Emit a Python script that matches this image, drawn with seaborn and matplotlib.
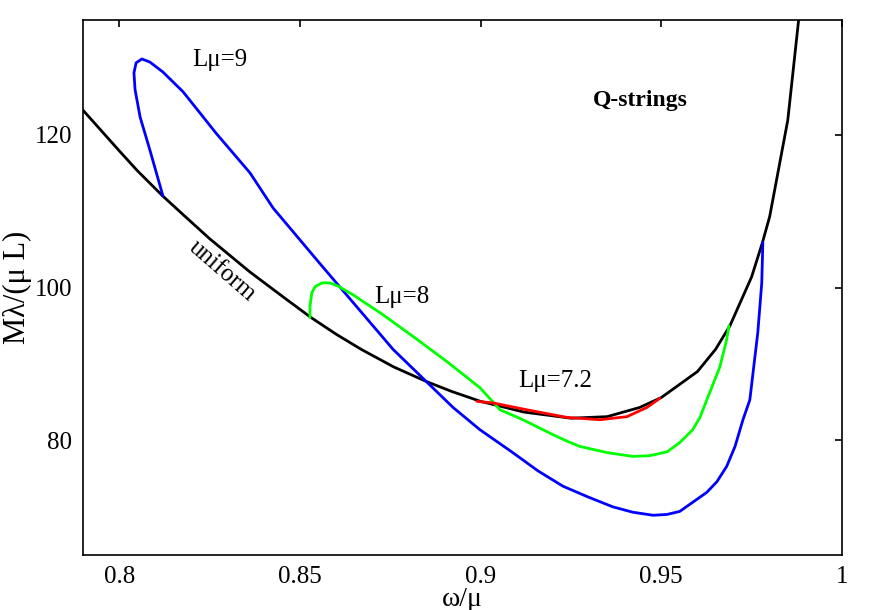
import matplotlib
matplotlib.use("Agg")
import matplotlib.pyplot as plt
import seaborn as sns

# uniform (black)
uni_x = [0.790, 0.800, 0.805, 0.812, 0.818, 0.825, 0.836, 0.845, 0.853, 0.860,
         0.867, 0.876, 0.885, 0.892, 0.900, 0.912, 0.925, 0.935, 0.944, 0.950,
         0.960, 0.965, 0.969, 0.975, 0.978, 0.980, 0.985, 0.988]
uni_y = [123.2, 117.9, 115.3, 112.0, 109.4, 106.4, 102.1, 98.9, 96.1, 93.9,
         91.9, 89.6, 87.7, 86.4, 85.1, 83.7, 82.9, 83.1, 84.3, 85.6,
         89.0, 91.9, 95.0, 101.4, 105.9, 109.3, 121.9, 135.0]

# L mu = 9 (blue)
l9_x = [0.8121, 0.8085, 0.8058, 0.8044, 0.8041, 0.8047, 0.8063, 0.8085, 0.8121,
        0.8177, 0.8268, 0.8362, 0.8426, 0.8556, 0.8758, 0.8924, 0.8998, 0.9089,
        0.9159, 0.9228, 0.9297, 0.9366, 0.9421, 0.9477, 0.9515, 0.9551, 0.9587,
        0.9626, 0.9654, 0.9681, 0.9704, 0.9726, 0.9745, 0.9767, 0.9778, 0.9781]
l9_y = [112.0, 118.0, 122.3, 125.9, 128.1, 129.4, 129.9, 129.5, 128.2,
        125.6, 120.2, 115.0, 110.4, 103.1, 91.9, 84.3, 81.4, 78.4,
        76.0, 74.0, 72.6, 71.3, 70.6, 70.2, 70.3, 70.7, 71.9,
        73.2, 74.6, 76.6, 79.2, 82.7, 85.3, 94.1, 100.6, 105.9]

# L mu = 8 (green)
l8_x = [0.8528, 0.8528, 0.8533, 0.8542, 0.8561, 0.8583, 0.8605, 0.8647, 0.8722,
        0.8813, 0.8907, 0.8998, 0.9054, 0.9117, 0.9200, 0.9239, 0.9275, 0.9350,
        0.9421, 0.9469, 0.9516, 0.9551, 0.9587, 0.9607, 0.9626, 0.9662, 0.9681,
        0.9687]
l8_y = [96.05, 97.5, 99.3, 100.1, 100.6, 100.6, 100.2, 99.05, 96.7,
        93.6, 90.3, 86.9, 84.0, 82.7, 80.75, 79.9, 79.2, 78.4,
        77.9, 78.0, 78.5, 79.7, 81.4, 83.0, 85.3, 89.6, 93.2,
        95.0]

# L mu = 7.2 (red)
l72_x = [0.8990, 0.9034, 0.9128, 0.9239, 0.9330, 0.9405, 0.9460, 0.9496]
l72_y = [85.1, 84.9, 84.0, 83.0, 82.7, 83.1, 84.3, 85.5]

x_ticks = [0.8, 0.85, 0.9, 0.95, 1.0]
x_tick_labels = ["0.8", "0.85", "0.9", "0.95", "1"]
y_ticks = [80, 100, 120]
y_tick_labels = ["80", "100", "120"]

sns.set_theme(style="white")
plt.rcParams['font.family'] = ['Liberation Serif', 'DejaVu Serif']
plt.rcParams['text.color'] = 'black'
plt.rcParams['axes.labelcolor'] = 'black'

fig = plt.figure(figsize=(8.72, 6.10), dpi=100)
ax = fig.add_axes([83/872, 55/610, (842-83)/872, (555-20)/610])

lw = 2.0
for xs, ys, c in [(uni_x, uni_y, "black"), (l9_x, l9_y, (0, 0, 1)),
                  (l8_x, l8_y, (0, 1, 0)), (l72_x, l72_y, (1, 0, 0))]:
    sns.lineplot(x=xs, y=ys, sort=False, estimator=None, color=c, lw=lw, ax=ax)

ax.set_xlim(0.79, 1.0)
ax.set_ylim(65, 135)
ax.set_xticks(x_ticks)
ax.set_xticklabels(x_tick_labels)
ax.set_yticks(y_ticks)
ax.set_yticklabels(y_tick_labels)
ax.tick_params(direction="in", length=5, width=1.2, top=True, right=True,
               labelsize=18, colors="black", pad=8)
for s in ax.spines.values():
    s.set_color("black")
    s.set_linewidth(1.2)

ax.set_xlabel("ω/μ", fontsize=20, labelpad=-1)
ax.set_ylabel("Mλ/(μ L)", fontsize=22, labelpad=2)

ax.text(0.8279, 129.8, "Lμ=9", fontsize=18, ha="center", va="center")
ax.text(0.8782, 98.8, "Lμ=8", fontsize=18, ha="center", va="center")
ax.text(0.9206, 87.8, "Lμ=7.2", fontsize=18, ha="center", va="center")
ax.text(0.9441, 124.5, "Q-strings", fontsize=17, fontweight="bold", ha="center", va="center")
ax.text(0.8285, 102.1, "uniform", fontsize=18, ha="center", va="center", rotation=-41)

fig.savefig("out.png", dpi=100)
